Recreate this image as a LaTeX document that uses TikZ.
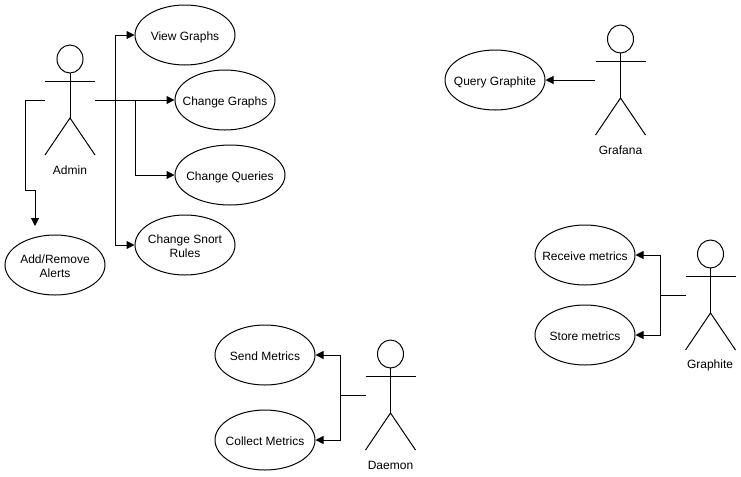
\documentclass[tikz,border=0pt]{standalone}
\usepackage{fontspec}
\setmainfont{Liberation Sans}
\usetikzlibrary{arrows.meta,shapes.geometric}
\tikzset{x=0.75pt,y=-0.75pt,
 uc/.style={draw=black,fill=white,ellipse,line width=0.75pt,inner sep=-30pt,align=center,minimum width=75pt,minimum height=45pt,font=\fontsize{9}{10.5}\selectfont,text height=7.5pt,text depth=0pt},
 uctwo/.style={uc,text height=18pt,text depth=0pt},
 lbl/.style={font=\fontsize{9}{11}\selectfont,inner sep=0pt},
 link/.style={draw=black,line width=0.75pt,-{Triangle[length=6pt,width=6pt]}},
 plain/.style={draw=black,line width=0.75pt},
 pics/actor/.style={code={
  \draw[plain] (0,-41) ellipse[x radius=13,y radius=14];
  \draw[plain] (0,-27) -- (0,18);
  \draw[plain] (-25,-19) -- (25,-19);
  \draw[plain] (-25,55) -- (0,18) -- (25,55);
 }}}
\begin{document}
\begin{tikzpicture}
\useasboundingbox (0,0) rectangle (741,476);
\fill[white] (0,0) rectangle (741,476);
\pic at (70,100) {actor};
\pic at (620.5,80) {actor};
\pic at (710.5,295) {actor};
\pic at (390.5,395) {actor};
\node[lbl] (admin) at (70,170) {Admin};
\node[lbl] (grafana) at (620.5,150) {Grafana};
\node[lbl] (graphite) at (710,365) {Graphite};
\node[lbl] (daemon) at (390.5,465) {Daemon};
\coordinate (ar) at (95,100);
\coordinate (al) at (45,100);
\coordinate (gl) at (595,80);
\coordinate (pl) at (685.5,295);
\coordinate (dl) at (365.5,395);
\coordinate (aend) at (35,226);
\node[uc] (view) at (185,35) {View Graphs};
\node[uc] (chg) at (225,100) {Change Graphs};
\node[uc,minimum width=82.5pt] (chq) at (230,175) {Change Queries};
\node[uctwo] (snort) at (185,245) {Change Snort\\Rules};
\node[uctwo] (alerts) at (55,265) {Add/Remove\\Alerts};
\node[uc] (query) at (495,80) {Query Graphite};
\node[uc] (recv) at (585,255) {Receive metrics};
\node[uc] (store) at (585,335) {Store metrics};
\node[uc] (send) at (265,355) {Send Metrics};
\node[uc] (coll) at (265,440) {Collect Metrics};
\draw[link] (ar) -- (115,100) -- (115,35) -- (view.west);
\draw[link] (ar) -- (chg.west);
\draw[link] (135,100) -- (135,175) -- (chq.west);
\draw[link] (115,100) -- (115,245) -- (snort.west);
\draw[link] (al) -- (25,100) -- (25,190) -- (35,190) -- (aend);
\draw[link] (gl) -- (query.east);
\draw[link] (pl) -- (660,295) -- (660,255) -- (recv.east);
\draw[link] (660,295) -- (660,335) -- (store.east);
\draw[link] (dl) -- (340,395) -- (340,355) -- (send.east);
\draw[link] (340,395) -- (340,440) -- (coll.east);
\end{tikzpicture}
\end{document}
